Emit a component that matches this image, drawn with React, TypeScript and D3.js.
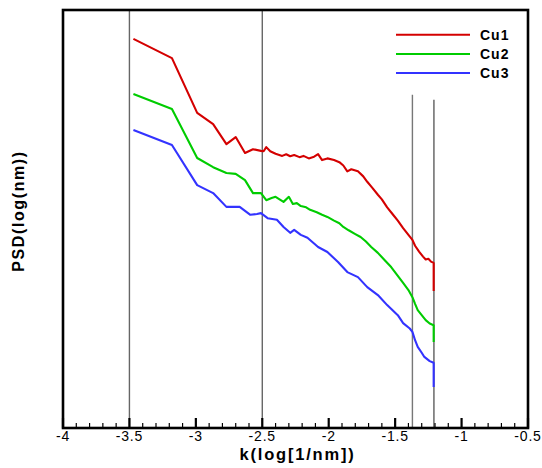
import React from "react";
import * as d3 from "d3";

const seriesNames = ["Cu1", "Cu2", "Cu3"];
const seriesColors = ["#d40000", "#00cc00", "#3333ff"];

const cu1: [number, number][] = [
  [-3.47, 9.31], [-3.18, 8.85], [-2.99, 7.54], [-2.87, 7.27], [-2.77, 6.79], [-2.70, 6.96],
  [-2.63, 6.58], [-2.57, 6.67], [-2.51, 6.63], [-2.49, 6.62], [-2.47, 6.72], [-2.44, 6.62],
  [-2.40, 6.56], [-2.35, 6.51], [-2.32, 6.55], [-2.29, 6.50], [-2.26, 6.53], [-2.22, 6.48],
  [-2.19, 6.51], [-2.15, 6.45], [-2.11, 6.49], [-2.08, 6.55], [-2.05, 6.41], [-2.01, 6.45],
  [-1.96, 6.41], [-1.92, 6.36], [-1.89, 6.28], [-1.86, 6.14], [-1.83, 6.19], [-1.78, 6.14],
  [-1.74, 6.02], [-1.71, 5.89], [-1.67, 5.74], [-1.63, 5.58], [-1.60, 5.47], [-1.56, 5.28],
  [-1.52, 5.12], [-1.48, 4.96], [-1.44, 4.78], [-1.40, 4.62], [-1.37, 4.50], [-1.35, 4.36],
  [-1.32, 4.22], [-1.29, 4.10], [-1.27, 4.03], [-1.25, 4.05], [-1.23, 3.98], [-1.21, 3.95],
  [-1.21, 3.28],
];

const cu2: [number, number][] = [
  [-3.47, 7.99], [-3.18, 7.63], [-2.99, 6.46], [-2.87, 6.24], [-2.77, 6.10], [-2.70, 6.08],
  [-2.63, 5.93], [-2.57, 5.62], [-2.51, 5.62], [-2.47, 5.45], [-2.43, 5.50], [-2.40, 5.53],
  [-2.37, 5.47], [-2.34, 5.41], [-2.30, 5.53], [-2.27, 5.36], [-2.24, 5.38], [-2.21, 5.31],
  [-2.17, 5.28], [-2.14, 5.22], [-2.09, 5.16], [-2.05, 5.10], [-2.01, 5.05], [-1.96, 4.96],
  [-1.92, 4.90], [-1.89, 4.81], [-1.85, 4.73], [-1.80, 4.64], [-1.76, 4.57], [-1.72, 4.46],
  [-1.68, 4.33], [-1.63, 4.19], [-1.58, 4.02], [-1.53, 3.85], [-1.49, 3.68], [-1.44, 3.47],
  [-1.40, 3.30], [-1.37, 3.13], [-1.35, 2.97], [-1.33, 2.82], [-1.30, 2.70], [-1.27, 2.58],
  [-1.24, 2.50], [-1.21, 2.46], [-1.21, 2.06],
];

const cu3: [number, number][] = [
  [-3.47, 7.13], [-3.18, 6.77], [-2.99, 5.81], [-2.87, 5.62], [-2.77, 5.29], [-2.67, 5.29],
  [-2.59, 5.10], [-2.54, 5.12], [-2.51, 5.14], [-2.46, 5.02], [-2.39, 4.98], [-2.34, 4.81],
  [-2.29, 4.67], [-2.26, 4.74], [-2.21, 4.62], [-2.16, 4.55], [-2.08, 4.33], [-2.01, 4.21],
  [-1.93, 3.97], [-1.86, 3.73], [-1.78, 3.61], [-1.71, 3.37], [-1.63, 3.18], [-1.56, 2.94],
  [-1.48, 2.70], [-1.44, 2.51], [-1.39, 2.38], [-1.37, 2.30], [-1.35, 2.10], [-1.33, 1.94],
  [-1.30, 1.80], [-1.28, 1.70], [-1.24, 1.60], [-1.21, 1.56], [-1.21, 0.98],
];

const seriesData = [cu1, cu2, cu3];

const xMajorTicks = [-4, -3.5, -3, -2.5, -2, -1.5, -1, -0.5];
const xTickLabels = ["-4", "-3.5", "-3", "-2.5", "-2", "-1.5", "-1", "-0.5"];
const refLinesX = [-3.5, -2.5, -1.37, -1.208];
const refLinesTop = [10, 10, 7.97, 7.85];
const refLineColors = ["#666666", "#666666", "#777777", "#333333"];

export default function App() {
  const width = 542;
  const height = 468;
  const left = 63, right = 528, top = 10, bottom = 428;
  const x = d3.scaleLinear().domain([-4, -0.5]).range([left, right]);
  const y = d3.scaleLinear().domain([0, 10]).range([bottom, top]);
  const line = d3.line<[number, number]>().x((d) => x(d[0])).y((d) => y(d[1]));
  const minorTicks = d3.range(-40, -4, 1).map((v) => v / 10).filter((v) => Math.abs(v * 2 - Math.round(v * 2)) > 1e-6);
  const font = "'Liberation Sans', Arial, sans-serif";

  return (
    <svg width={width} height={height} style={{ position: "absolute", left: 0, top: 0, background: "#fff" }}>
      {refLinesX.map((v, i) => (
        <line key={"r" + i} x1={x(v)} x2={x(v)} y1={y(refLinesTop[i])} y2={bottom}
          stroke={refLineColors[i]} strokeWidth={i === 3 ? 1.1 : 1.4} />
      ))}
      {seriesData.map((s, i) => (
        <path key={"s" + i} d={line(s) || ""} fill="none" stroke={seriesColors[i]}
          strokeWidth={2.1} strokeLinejoin="round" />
      ))}
      {minorTicks.map((v, i) => (
        <line key={"m" + i} x1={x(v)} x2={x(v)} y1={bottom} y2={bottom - 5} stroke="#000" strokeWidth={1.2} />
      ))}
      {xMajorTicks.map((v, i) => (
        <line key={"M" + i} x1={x(v)} x2={x(v)} y1={bottom} y2={bottom - 10} stroke="#000" strokeWidth={2.2} />
      ))}
      <rect x={left} y={top} width={right - left} height={bottom - top} fill="none" stroke="#000" strokeWidth={2.6} />
      {xMajorTicks.map((v, i) => (
        <text key={"t" + i} x={x(v)} y={441} textAnchor="middle" fontFamily={font}
          fontSize={14} letterSpacing={0.8}>{xTickLabels[i]}</text>
      ))}
      <text x={(left + right) / 2 + 2} y={460} textAnchor="middle" fontFamily={font} fontSize={16.5}
        fontWeight="bold" letterSpacing={1.8}>k(log[1/nm])</text>
      <text transform={`translate(24, 211) rotate(-90)`} textAnchor="middle" fontFamily={font}
        fontSize={16} fontWeight="bold" letterSpacing={1.6}>PSD(log(nm))</text>
      {seriesNames.map((n, i) => (
        <g key={"l" + i}>
          <line x1={396} x2={470} y1={34.7 + i * 19.2} y2={34.7 + i * 19.2} stroke={seriesColors[i]} strokeWidth={2} />
          <text x={480} y={34.7 + i * 19.2 + 5} fontFamily={font} fontSize={14} fontWeight="bold"
            letterSpacing={1}>{n}</text>
        </g>
      ))}
    </svg>
  );
}
